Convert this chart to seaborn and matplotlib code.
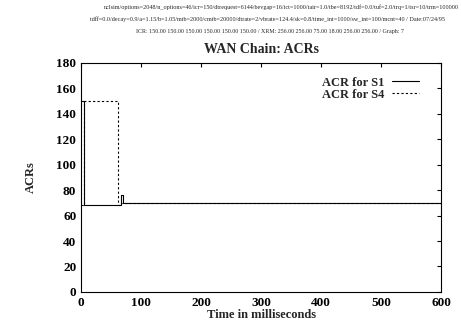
import pandas as pd
import numpy as np
import seaborn as sns
import matplotlib.pyplot as plt

# ACR traces (step shaped)
t_s1 = [0, 4, 4, 66, 66, 70, 70, 600]
acr_s1 = [150, 150, 68, 68, 76, 76, 70, 70]
t_s4 = [0, 4, 4, 62, 62, 66, 66, 600]
acr_s4 = [68, 68, 150, 150, 68, 68, 70, 70]

series_names = ["ACR for S1", "ACR for S4"]
x_ticks = [0, 100, 200, 300, 400, 500, 600]
y_ticks = [0, 20, 40, 60, 80, 100, 120, 140, 160, 180]

header = [
    "nclsim/options=2048/n_options=46/icr=150/dtrequest=6144/bevgap=16/ict=1000/tair=1.0/tbe=8192/tdf=0.0/tuf=2.0/trq=1/tsr=10/trm=100000",
    "tdff=0.0/decay=0.9/a=1.15/b=1.05/mtb=2000/cmtb=20000/dtrate=2/vbrate=124.4/sk=0.8/time_int=1000/sw_int=100/mcnt=40 / Date:07/24/95",
    "ICR: 150.00 150.00 150.00 150.00 150.00 150.00 / XRM: 256.00 256.00 75.00 18.00 256.00 256.00 / Graph: 7",
]

df = pd.concat([
    pd.DataFrame({"t": t_s1, "acr": acr_s1, "src": series_names[0]}),
    pd.DataFrame({"t": t_s4, "acr": acr_s4, "src": series_names[1]}),
])

sns.set_style("white")
plt.rcParams['font.family'] = ['Liberation Serif', 'DejaVu Serif']
plt.rcParams['font.weight'] = 'bold'

fig = plt.figure(figsize=(4.61, 3.28), dpi=100)
ax = fig.add_axes([0.176, 0.110, 0.781, 0.698])

sns.lineplot(data=df, x="t", y="acr", style="src", sort=False, estimator=None,
             color="black", linewidth=0.8,
             dashes={series_names[0]: "", series_names[1]: (2, 2)}, ax=ax)

ax.set_xlim(0, 600)
ax.set_ylim(0, 180)
ax.set_xticks(x_ticks)
ax.set_yticks(y_ticks)
ax.tick_params(direction='in', top=True, right=True, length=3, width=0.8,
               labelsize=9.5, colors='black')
for lab in ax.get_xticklabels() + ax.get_yticklabels():
    lab.set_fontweight('bold')
for sp in ax.spines.values():
    sp.set_color('black')
    sp.set_linewidth(0.8)

ax.set_xlabel("Time in milliseconds", fontsize=9, fontweight='bold', labelpad=0)
ax.set_ylabel("ACRs", fontsize=9, fontweight='bold', labelpad=14)
ax.set_title("WAN Chain: ACRs", fontsize=10, fontweight='bold', pad=7)

leg = ax.legend(loc='upper right', frameon=False, markerfirst=False,
                fontsize=9, handlelength=2.2, handletextpad=0.6,
                labelspacing=0.0, bbox_to_anchor=(0.97, 0.99))
for txt in leg.get_texts():
    txt.set_fontweight('bold')

fig.text(0.61, 0.978, header[0], ha='center', va='center', fontsize=4.4, fontweight='normal')
fig.text(0.58, 0.942, header[1], ha='center', va='center', fontsize=4.4, fontweight='normal')
fig.text(0.585, 0.903, header[2], ha='center', va='center', fontsize=4.3, fontweight='normal')

fig.savefig("out.png", dpi=100)
